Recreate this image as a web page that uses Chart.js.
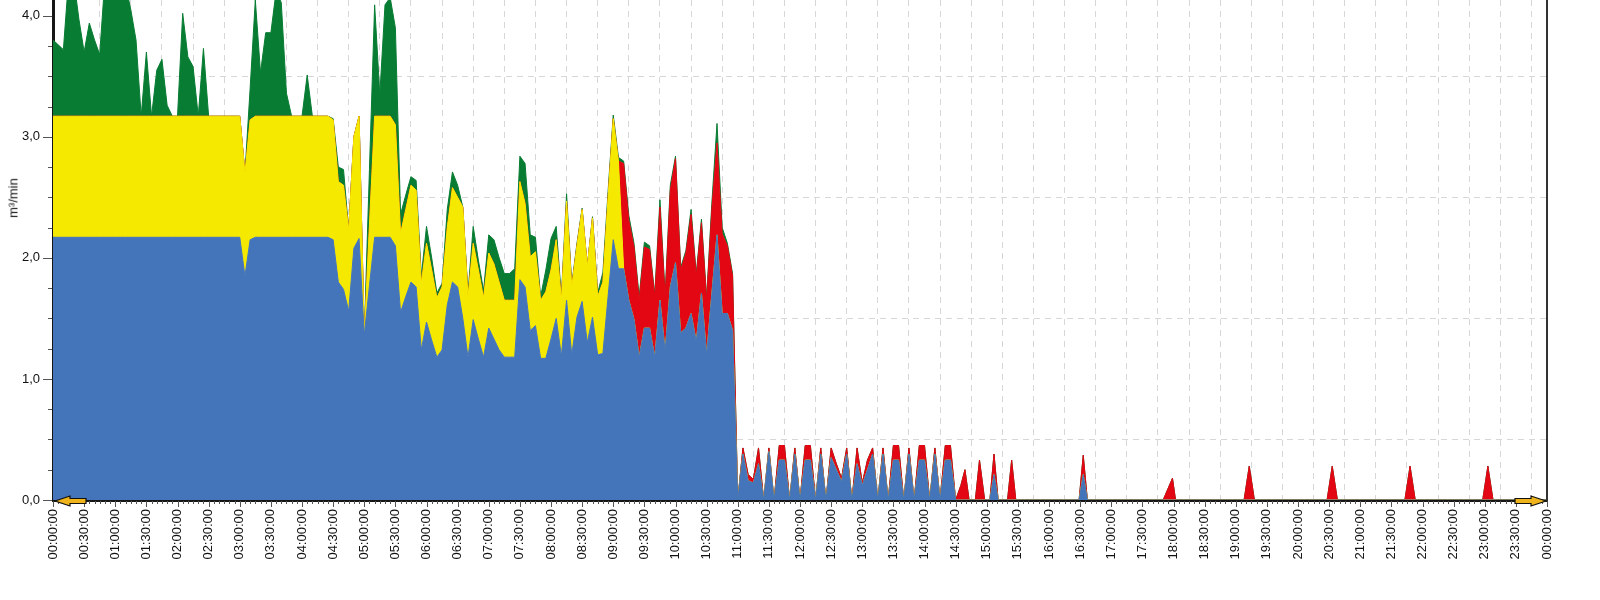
<!DOCTYPE html>
<html>
<head>
<meta charset="utf-8">
<script src="https://cdn.jsdelivr.net/npm/chart.js@4/dist/chart.umd.min.js"></script>
<style>
  body { margin: 0; background: #fff; }
  #wrap { position: relative; width: 1600px; height: 600px; }
  #ytitle {
    position: absolute; left: 13px; top: 198px;
    transform: translate(-50%, -50%) rotate(-90deg);
    font: 13px 'Liberation Sans', Arial, sans-serif; color: #111; white-space: nowrap;
  }
</style>
</head>
<body>
<div id="wrap">
  <canvas id="chart" width="1600" height="600"></canvas>
  <span id="ytitle">m³/min</span>
</div>
<script>
// sample times in minutes after midnight
const times = [
  0, 5, 10, 15, 20, 25, 30, 35, 40, 45, 50, 55,
  60, 65, 70, 75, 80, 85, 90, 95, 100, 105, 110, 115,
  120, 125, 130, 135, 140, 145, 150, 155, 160, 165, 170, 175,
  180, 185, 190, 195, 200, 205, 210, 215, 220, 225, 230, 235,
  240, 245, 250, 255, 260, 265, 270, 275, 280, 285, 290, 295,
  300, 305, 310, 315, 320, 325, 330, 335, 340, 345, 350, 355,
  360, 365, 370, 375, 380, 385, 390, 395, 400, 405, 410, 415,
  420, 425, 430, 435, 440, 445, 450, 455, 460, 465, 470, 475,
  480, 485, 490, 495, 500, 505, 510, 515, 520, 525, 530, 535,
  540, 545, 550, 555, 560, 565, 570, 575, 580, 585, 590, 595,
  600, 605, 610, 615, 620, 625, 630, 635, 640, 645, 650, 655,
  660, 665, 670, 675, 680, 685, 690, 695, 700, 705, 710, 715,
  720, 725, 730, 735, 740, 745, 750, 755, 760, 765, 770, 775,
  780, 785, 790, 795, 800, 805, 810, 815, 820, 825, 830, 835,
  840, 845, 850, 855, 860, 865, 870,
  875, 879, 883, 889, 893, 898, 903, 907, 911, 920, 924, 928,
  989, 993, 997, 1070, 1075, 1079, 1082, 1148, 1153, 1158,
  1228, 1233, 1238, 1303, 1308, 1313, 1378, 1383, 1388, 1440
];

const blue = [
  2.17, 2.17, 2.17, 2.17, 2.17, 2.17, 2.17, 2.17, 2.17, 2.17, 2.17, 2.17,
  2.17, 2.17, 2.17, 2.17, 2.17, 2.17, 2.17, 2.17, 2.17, 2.17, 2.17, 2.17,
  2.17, 2.17, 2.17, 2.17, 2.17, 2.17, 2.17, 2.17, 2.17, 2.17, 2.17, 2.17,
  2.17, 1.85, 2.15, 2.17, 2.17, 2.17, 2.17, 2.17, 2.17, 2.17, 2.17, 2.17,
  2.17, 2.17, 2.17, 2.17, 2.17, 2.17, 2.15, 1.80, 1.74, 1.56, 2.08, 2.16,
  1.36, 1.77, 2.17, 2.17, 2.17, 2.17, 2.10, 1.55, 1.68, 1.80, 1.76, 1.24,
  1.47, 1.32, 1.18, 1.24, 1.61, 1.80, 1.76, 1.50, 1.18, 1.49, 1.33, 1.18,
  1.42, 1.33, 1.24, 1.18, 1.18, 1.18, 1.82, 1.76, 1.40, 1.44, 1.17, 1.17,
  1.33, 1.50, 1.19, 1.65, 1.20, 1.51, 1.64, 1.30, 1.51, 1.20, 1.21, 1.68,
  2.15, 1.91, 1.91, 1.65, 1.49, 1.18, 1.42, 1.42, 1.18, 1.65, 1.23, 1.76,
  1.96, 1.38, 1.42, 1.54, 1.31, 1.71, 1.20, 1.70, 2.19, 1.54, 1.54, 1.40,
  0, 0.38, 0.16, 0.14, 0.30, 0, 0.40, 0, 0.33, 0.33, 0, 0.38,
  0, 0.33, 0.33, 0, 0.38, 0, 0.35, 0.25, 0.15, 0.38, 0, 0.30,
  0.12, 0.25, 0.38, 0, 0.38, 0, 0.33, 0.33, 0, 0.38, 0, 0.33,
  0.33, 0, 0.38, 0, 0.33, 0.33, 0,
  0, 0, 0, 0, 0, 0, 0, 0.21, 0, 0, 0, 0,
  0, 0.21, 0, 0, 0, 0, 0, 0, 0, 0,
  0, 0, 0, 0, 0, 0, 0, 0, 0, 0
];

const yellow = [
  1, 1, 1, 1, 1, 1, 1, 1, 1, 1, 1, 1,
  1, 1, 1, 1, 1, 1, 1, 1, 1, 1, 1, 1,
  1, 1, 1, 1, 1, 1, 1, 1, 1, 1, 1, 1,
  1, 0.85, 0.99, 1, 1, 1, 1, 1, 1, 1, 1, 1,
  1, 1, 1, 1, 1, 1, 0.99, 0.83, 0.86, 0.67, 0.92, 1.01,
  0, 0.50, 1, 1, 1, 1, 1, 0.65, 0.72, 0.80, 0.80, 0.55,
  0.65, 0.58, 0.49, 0.52, 0.64, 0.78, 0.74, 0.92, 0.50, 0.63, 0.57, 0.49,
  0.62, 0.62, 0.56, 0.47, 0.47, 0.47, 0.81, 0.69, 0.61, 0.61, 0.48, 0.55,
  0.57, 0.65, 0.46, 0.82, 0.56, 0.59, 0.76, 0.63, 0.82, 0.48, 0.59, 0.82,
  1, 0.89, 0, 0, 0, 0, 0, 0, 0, 0, 0, 0,
  0, 0, 0, 0, 0, 0, 0, 0, 0, 0, 0, 0,
  0, 0, 0, 0, 0, 0, 0, 0, 0, 0, 0, 0,
  0, 0, 0, 0, 0, 0, 0, 0, 0, 0, 0, 0,
  0, 0, 0, 0, 0, 0, 0, 0, 0, 0, 0, 0,
  0, 0, 0, 0, 0, 0, 0,
  0, 0, 0, 0, 0, 0, 0, 0, 0, 0, 0, 0,
  0, 0, 0, 0, 0, 0, 0, 0, 0, 0,
  0, 0, 0, 0, 0, 0, 0, 0, 0, 0
];

const red = [
  0, 0, 0, 0, 0, 0, 0, 0, 0, 0, 0, 0,
  0, 0, 0, 0, 0, 0, 0, 0, 0, 0, 0, 0,
  0, 0, 0, 0, 0, 0, 0, 0, 0, 0, 0, 0,
  0, 0, 0, 0, 0, 0, 0, 0, 0, 0, 0, 0,
  0, 0, 0, 0, 0, 0, 0, 0, 0, 0, 0, 0,
  0, 0, 0, 0, 0, 0, 0, 0, 0, 0, 0, 0,
  0, 0, 0, 0, 0, 0, 0, 0, 0, 0, 0, 0,
  0, 0, 0, 0, 0, 0, 0, 0, 0, 0, 0, 0,
  0, 0, 0, 0, 0, 0, 0, 0, 0, 0, 0, 0,
  0, 0, 0.87, 0.66, 0.60, 0.47, 0.67, 0.65, 0.50, 0.77, 0.45, 0.80,
  0.86, 0.52, 0.62, 0.82, 0.54, 0.58, 0.45, 0.70, 0.76, 0.66, 0.56, 0.45,
  0, 0.05, 0.05, 0.03, 0.13, 0, 0.03, 0, 0.12, 0.12, 0, 0.05,
  0, 0.12, 0.12, 0, 0.05, 0, 0.08, 0.05, 0.03, 0.05, 0, 0.13,
  0.02, 0.08, 0.05, 0, 0.05, 0, 0.12, 0.12, 0, 0.05, 0, 0.12,
  0.12, 0, 0.05, 0, 0.12, 0.12, 0,
  0.12, 0.25, 0, 0, 0.33, 0, 0, 0.17, 0, 0, 0.33, 0,
  0, 0.16, 0, 0, 0.10, 0.18, 0, 0, 0.28, 0,
  0, 0.28, 0, 0, 0.28, 0, 0, 0.28, 0, 0
];

const green = [
  0.63, 0.59, 0.55, 1.13, 1.13, 0.80, 0.53, 0.77, 0.63, 0.51, 1.13, 1.13,
  1.13, 1.13, 1.08, 0.88, 0.63, 0, 0.53, 0, 0.38, 0.47, 0.09, 0,
  0, 0.85, 0.49, 0.41, 0, 0.56, 0, 0, 0, 0, 0, 0,
  0, 0, 0.26, 0.96, 0.36, 0.69, 0.69, 1.03, 0.94, 0.19, 0, 0,
  0, 0.34, 0, 0, 0, 0, 0.01, 0.12, 0.13, 0, 0, 0,
  0, 0.46, 0.92, 0.18, 0.92, 0.98, 0.80, 0.16, 0.12, 0.07, 0.08, 0.06,
  0.14, 0.10, 0.04, 0.03, 0.15, 0.13, 0.10, 0, 0.03, 0.14, 0.08, 0.06,
  0.15, 0.20, 0.20, 0.22, 0.22, 0.26, 0.21, 0.33, 0.18, 0.12, 0.03, 0.18,
  0.26, 0.11, 0.03, 0.06, 0.02, 0.02, 0.01, 0, 0.01, 0.03, 0.08, 0.05,
  0.03, 0.03, 0.02, 0.04, 0.03, 0.03, 0.04, 0.03, 0.02, 0.06, 0.02, 0.04,
  0.02, 0.02, 0.02, 0.04, 0.02, 0.03, 0.02, 0.05, 0.16, 0.05, 0.02, 0.02,
  0, 0, 0, 0, 0, 0, 0, 0, 0, 0, 0, 0,
  0, 0, 0, 0, 0, 0, 0, 0, 0, 0, 0, 0,
  0, 0, 0, 0, 0, 0, 0, 0, 0, 0, 0, 0,
  0, 0, 0, 0, 0, 0, 0,
  0, 0, 0, 0, 0, 0, 0, 0, 0, 0, 0, 0,
  0, 0, 0, 0, 0, 0, 0, 0, 0, 0,
  0, 0, 0, 0, 0, 0, 0, 0, 0, 0
];

const seriesNames = ['blue', 'yellow', 'red', 'green'];
const seriesColors = ['#4474b9', '#f6e900', '#e30613', '#077c32'];
const seriesValues = [blue, yellow, red, green];

const gridColor = 'rgba(175,175,175,0.5)';

function pad(n) { return String(n).padStart(2, '0'); }
function timeLabel(m) {
    return pad(Math.floor(m / 60) % 24) + ':' + pad(m % 60) + ':00';
}

// arrows, minor ticks and right frame line
const extras = {
    id: 'extras',
    afterDraw(chart) {
        const { ctx, chartArea: a, scales: { x, y } } = chart;
        ctx.save();

        ctx.strokeStyle = '#333';
        ctx.lineWidth = 2;
        ctx.beginPath();
        ctx.moveTo(a.right, a.top);
        ctx.lineTo(a.right, a.bottom + 1);
        ctx.stroke();

        ctx.strokeStyle = '#555';
        ctx.lineWidth = 1;
        y.ticks.forEach(t => {
            const py = Math.round(y.getPixelForValue(t.value)) + 0.5;
            const len = Number.isInteger(t.value) ? 10 : 5;
            ctx.beginPath();
            ctx.moveTo(a.left - len, py);
            ctx.lineTo(a.left - 1, py);
            ctx.stroke();
        });
        for (let m = 0; m <= 1440; m += 5) {
            const px = Math.round(x.getPixelForValue(m)) + 0.5;
            const len = m % 30 === 0 ? 7 : 4;
            ctx.beginPath();
            ctx.moveTo(px, a.bottom + 1);
            ctx.lineTo(px, a.bottom + len);
            ctx.stroke();
        }

        drawArrow(ctx, a.left + 2, a.bottom + 1, -1);
        drawArrow(ctx, a.right - 1, a.bottom + 1, 1);
        ctx.restore();
    }
};

function drawArrow(ctx, tipX, y, dir) {
    const head = 15, len = 31, hh = 5, sh = 2.5;
    ctx.beginPath();
    ctx.moveTo(tipX, y);
    ctx.lineTo(tipX - dir * head, y - hh);
    ctx.lineTo(tipX - dir * head, y - sh);
    ctx.lineTo(tipX - dir * len, y - sh);
    ctx.lineTo(tipX - dir * len, y + sh);
    ctx.lineTo(tipX - dir * head, y + sh);
    ctx.lineTo(tipX - dir * head, y + hh);
    ctx.closePath();
    ctx.fillStyle = '#efb31b';
    ctx.fill();
    ctx.strokeStyle = '#111';
    ctx.lineWidth = 1.2;
    ctx.stroke();
}

Chart.defaults.font.family = "'Liberation Sans', Arial, sans-serif";
Chart.defaults.font.size = 13;
Chart.defaults.color = '#111';

new Chart(document.getElementById('chart'), {
    type: 'line',
    data: {
        datasets: seriesValues.map((vals, k) => ({
            label: seriesNames[k],
            data: times.map((t, j) => ({ x: t, y: vals[j] })),
            backgroundColor: seriesColors[k],
            borderColor: seriesColors[k],
            borderWidth: 1,
            pointRadius: 0,
            tension: 0,
            fill: k === 0 ? 'origin' : '-1'
        }))
    },
    options: {
        responsive: false,
        animation: false,
        layout: { autoPadding: false, padding: { left: 0, right: 53, top: 0, bottom: 0 } },
        plugins: {
            legend: { display: false },
            tooltip: { enabled: false }
        },
        scales: {
            x: {
                type: 'linear',
                min: 0,
                max: 1440,
                z: 1,
                afterFit: s => {
                    s.height = 100;
                    s.paddingLeft = 0;
                    s.paddingRight = 0;
                },
                ticks: {
                    stepSize: 15,
                    maxTicksLimit: 1000,
                    autoSkip: false,
                    minRotation: 90,
                    maxRotation: 90,
                    padding: 9,
                    callback: v => v % 30 === 0 ? timeLabel(v) : ''
                },
                grid: {
                    drawTicks: false,
                    color: c => (c.tick && c.tick.value % 30 === 15) ? gridColor : 'transparent'
                },
                border: { color: '#161616', width: 3, dash: [6, 5] }
            },
            y: {
                stacked: true,
                min: 0,
                max: 4.13,
                z: 1,
                afterFit: s => {
                    s.width = 53;
                    s.paddingTop = 0;
                    s.paddingBottom = 0;
                },
                ticks: {
                    stepSize: 0.25,
                    includeBounds: false,
                    padding: 13,
                    callback: v => Number.isInteger(v) ? v.toFixed(1).replace('.', ',') : ''
                },
                grid: {
                    drawTicks: false,
                    color: c => (c.tick && c.tick.value % 1 === 0.5) ? gridColor : 'transparent'
                },
                border: { color: '#161616', width: 3, dash: [6, 5] }
            }
        }
    },
    plugins: [extras]
});
</script>
</body>
</html>
